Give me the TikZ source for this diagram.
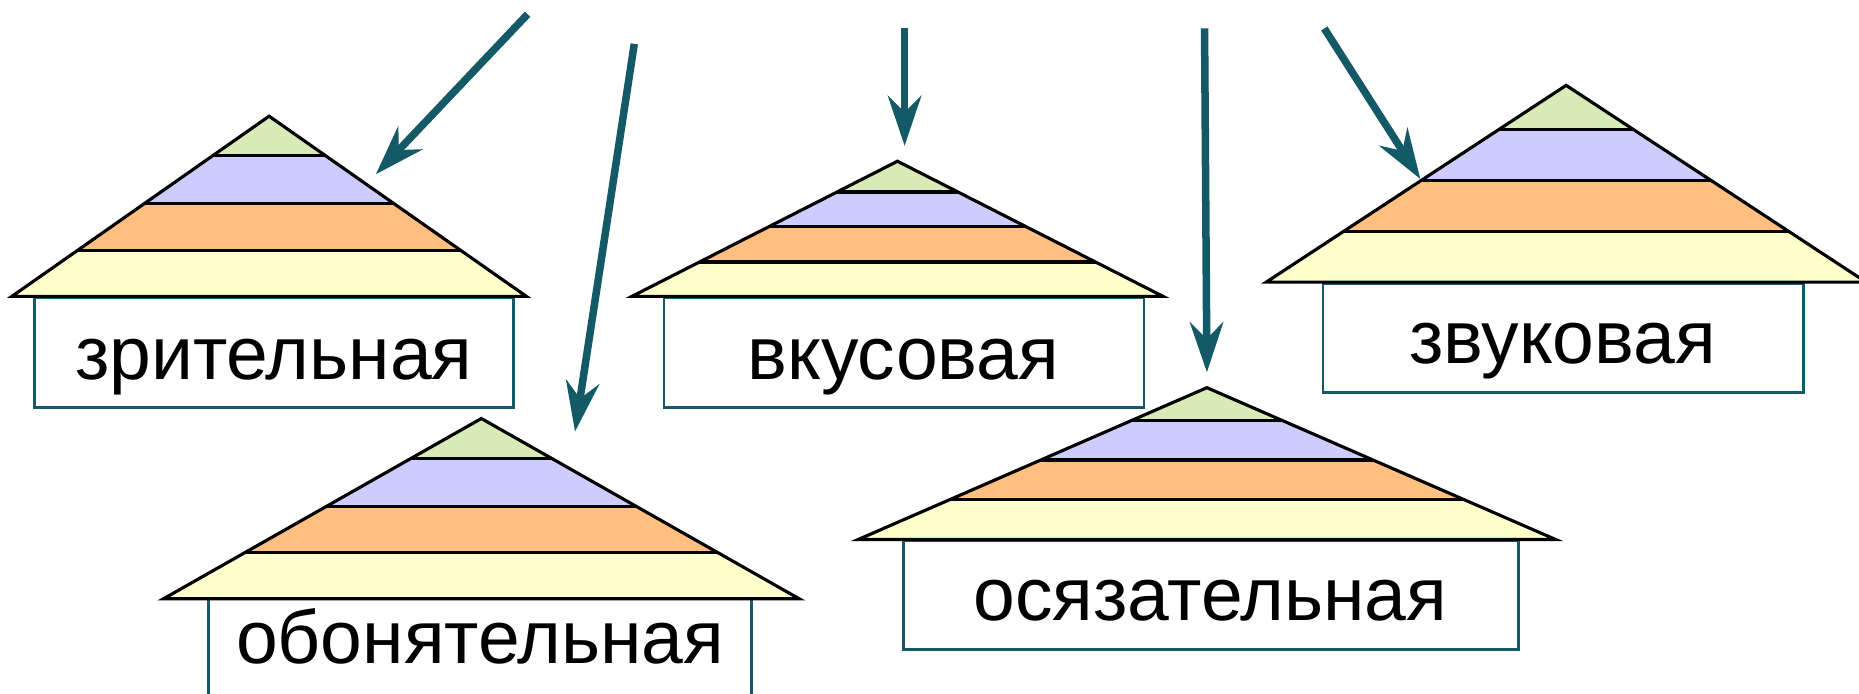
\documentclass[tikz,border=0pt]{standalone}
\usepackage{fontspec}
\setmainfont{Liberation Sans}
\usetikzlibrary{arrows.meta}
\definecolor{tealdk}{HTML}{135A66}
\definecolor{lgreen}{HTML}{D8EAB5}
\definecolor{lpurple}{HTML}{CCCCFF}
\definecolor{lorange}{HTML}{FFBF80}
\definecolor{lyellow}{HTML}{FFFFCC}
\tikzset{
  layer/.style={draw=black, line width=0.75pt, line join=miter},
  housebox/.style={draw=tealdk, line width=0.65pt},
  ptr/.style={draw=tealdk, line width=1.8pt,
    -{Stealth[length=12pt, width=8pt, inset=4pt]}},
  lbl/.style={font=\fontsize{18}{21}\selectfont, anchor=base, inner sep=0pt}
}
% #1 name, #2 apex x, #3 apex y, #4 base y, #5 half width, #6 #7 #8 layer lines
\newcommand\mypyr[8]{%
  \coordinate (#1-apex) at (#2,#3);
  \coordinate (#1-bl) at ({#2-#5},#4);
  \coordinate (#1-br) at ({#2+#5},#4);
  \begin{scope}
    \clip (#1-apex) -- (#1-bl) -- (#1-br) -- cycle;
    \fill[lgreen]  ({#2-#5},#3) rectangle ({#2+#5},#6);
    \fill[lpurple] ({#2-#5},#6) rectangle ({#2+#5},#7);
    \fill[lorange] ({#2-#5},#7) rectangle ({#2+#5},#8);
    \fill[lyellow] ({#2-#5},#8) rectangle ({#2+#5},#4);
    \draw[layer] ({#2-#5},#6) -- ({#2+#5},#6)
                 ({#2-#5},#7) -- ({#2+#5},#7)
                 ({#2-#5},#8) -- ({#2+#5},#8);
  \end{scope}
  \draw[layer] (#1-apex) -- (#1-bl) -- (#1-br) -- cycle;
}
\begin{document}
\begin{tikzpicture}[x=0.01cm, y=-0.01cm]
\useasboundingbox (0,0) rectangle (1568,585);
\clip (0,0) rectangle (1568,585);
\fill[white] (0,0) rectangle (1568,585);

% boxes
\draw[housebox] (29,251) rectangle (433,344);
\node[lbl] (t1) at (231,320) {зрительная};
\draw[housebox] (176,506) -- (176,600) (634,506) -- (634,600);
\node[lbl] (t2) at (405,560) {обонятельная};
\draw[housebox] (560,251) rectangle (965,344);
\node[lbl] (t3) at (762,320) {вкусовая};
\draw[housebox] (762,456) rectangle (1281,548);
\node[lbl] (t4) at (1021,523) {осязательная};
\draw[housebox] (1116,239) rectangle (1521,331);
\node[lbl] (t5) at (1318,307) {звуковая};

% pyramids
\mypyr{p1}{227}{98}{250}{217}{131}{172}{211}
\mypyr{p2}{406}{353}{505}{268}{387}{427}{466}
\mypyr{p3}{757}{136}{250}{224}{162}{191}{221}
\mypyr{p4}{1018}{327}{455}{294}{355}{388}{421}
\mypyr{p5}{1321}{72}{238}{253}{109}{152}{195}

% arrows
\coordinate (a1s) at (445,12);   \coordinate (a1e) at (317,147);
\coordinate (a2s) at (535,37);   \coordinate (a2e) at (485,364);
\coordinate (a3s) at (763,24);   \coordinate (a3e) at (763,123);
\coordinate (a4s) at (1016,24);  \coordinate (a4e) at (1018,314);
\coordinate (a5s) at (1117,24);  \coordinate (a5e) at (1198,151);
\draw[ptr] (a1s) -- (a1e);
\draw[ptr] (a2s) -- (a2e);
\draw[ptr] (a3s) -- (a3e);
\draw[ptr] (a4s) -- (a4e);
\draw[ptr] (a5s) -- (a5e);
\end{tikzpicture}
\end{document}
